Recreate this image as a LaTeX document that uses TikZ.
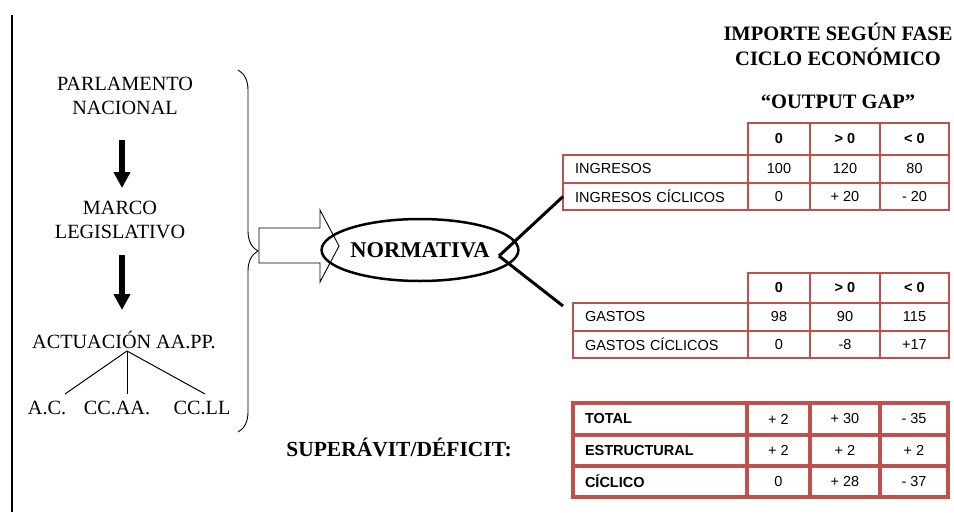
\documentclass[tikz,border=0pt]{standalone}
\usepackage{fontspec}
\setmainfont{Liberation Serif}
\newfontfamily\tabfont{Liberation Sans}
\usepackage{tikz}
\usetikzlibrary{positioning,arrows.meta,shapes.geometric,decorations.pathreplacing}
\definecolor{tabred}{RGB}{192,80,77}

\tikzset{
  txt/.style={font=\fontsize{20.2}{24}\selectfont, align=center, inner sep=0pt},
  hdr/.style={font=\bfseries\fontsize{20.5}{25}\selectfont, align=center, inner sep=0pt},
  cell/.style={draw=tabred, line width=1.5pt, inner sep=0pt, outer sep=0pt, anchor=north west,
               font=\tabfont\fontsize{14.5}{16}\selectfont},
  bcell/.style={cell, font=\tabfont\bfseries\fontsize{14.5}{16}\selectfont},
  lab/.style={text width=#1, inner xsep=12pt, align=left},
  fat/.style={line width=3.5pt},
  bigdown/.style={line width=5.5pt, -{Triangle[length=16pt,width=16pt]}}
}

\begin{document}
\begin{tikzpicture}[x=1pt,y=-1pt]
                \useasboundingbox (0,0) rectangle (954,512);
                \draw[line width=2pt] (12,15) -- (12,512);

                % left column
                \node[txt] (parl)  at (125,96)   {PARLAMENTO\\NACIONAL};
                \node[txt] (marco) at (120,220)  {MARCO\\LEGISLATIVO};
                \node[txt] (act)   at (124,340)  {ACTUACIÓN AA.PP.};
                \node[txt] (ac)    at (47,408)   {A.C.};
                \node[txt] (ccaa)  at (117,408)  {CC.AA.};
                \node[txt] (ccll)  at (202,408)  {CC.LL};

                \draw[bigdown] (122,140) -- (122,188);
                \draw[bigdown] (122,255) -- (122,310);

                \coordinate (apex) at (127,351);
                \coordinate (t1)   at (65,394);
                \coordinate (t2)   at (127,394);
                \coordinate (t3)   at (205,394);
                \draw[line width=1pt] (apex) -- (t1);
                \draw[line width=1pt] (apex) -- (t2);
                \draw[line width=1pt] (apex) -- (t3);

                \draw[line width=0.9pt, decorate, decoration={brace, amplitude=20pt}] (238,70) -- (238,432);
                \draw[line width=0.9pt] (259,228) -- (320,228) -- (320,210) -- (339,246) -- (320,282) -- (320,263) -- (259,263) -- cycle;

                \node[draw, ellipse, line width=2.5pt, minimum width=159pt, minimum height=62pt, inner sep=0pt,
                      font=\bfseries\fontsize{22.5}{24}\selectfont] (norm) at (420,250) {NORMATIVA};

                % titles
                \node[hdr] (imp) at (838,44)  {IMPORTE SEGÚN FASE\\CICLO ECONÓMICO};
                \node[hdr] (gap) at (838,102) {“OUTPUT GAP”};
                \node[hdr, font=\bfseries\fontsize{21.5}{25}\selectfont] (sup) at (399,447) {SUPERÁVIT/DÉFICIT:};

                % ingresos
                \node[bcell, minimum width=62pt, minimum height=32pt] (ih0) at (748,123) {0};
                \node[bcell, minimum width=70pt, minimum height=32pt] (ih1) at (810,123) {> 0};
                \node[bcell, minimum width=69pt, minimum height=32pt] (ih2) at (880,123) {< 0};
                \node[cell, lab=161pt, minimum height=28pt] (ing)  at (563,155) {INGRESOS};
                \node[cell, minimum width=62pt, minimum height=28pt] (ing0) at (748,155) {100};
                \node[cell, minimum width=70pt, minimum height=28pt] (ing1) at (810,155) {120};
                \node[cell, minimum width=69pt, minimum height=28pt] (ing2) at (880,155) {80};
                \node[cell, lab=161pt, minimum height=27pt] (ic)  at (563,183) {INGRESOS CÍCLICOS};
                \node[cell, minimum width=62pt, minimum height=27pt] (ic0) at (748,183) {0};
                \node[cell, minimum width=70pt, minimum height=27pt] (ic1) at (810,183) {+ 20};
                \node[cell, minimum width=69pt, minimum height=27pt] (ic2) at (880,183) {- 20};

                % gastos
                \node[bcell, minimum width=62pt, minimum height=30pt] (gh0) at (748,273) {0};
                \node[bcell, minimum width=70pt, minimum height=30pt] (gh1) at (810,273) {> 0};
                \node[bcell, minimum width=69pt, minimum height=30pt] (gh2) at (880,273) {< 0};
                \node[cell, lab=151pt, minimum height=28pt] (gas)  at (573,303) {GASTOS};
                \node[cell, minimum width=62pt, minimum height=28pt] (gas0) at (748,303) {98};
                \node[cell, minimum width=70pt, minimum height=28pt] (gas1) at (810,303) {90};
                \node[cell, minimum width=69pt, minimum height=28pt] (gas2) at (880,303) {115};
                \node[cell, lab=151pt, minimum height=27pt] (gc)  at (573,331) {GASTOS CÍCLICOS};
                \node[cell, minimum width=62pt, minimum height=27pt] (gc0) at (748,331) {0};
                \node[cell, minimum width=70pt, minimum height=27pt] (gc1) at (810,331) {-8};
                \node[cell, minimum width=69pt, minimum height=27pt] (gc2) at (880,331) {+17};

                % saldo
                \node[bcell, fat, lab=150pt, minimum height=32pt] (tot) at (573,403) {TOTAL};
                \node[cell, fat, minimum width=63pt, minimum height=32pt] (tot0) at (747,403) {+ 2};
                \node[cell, fat, minimum width=70pt, minimum height=32pt] (tot1) at (810,403) {+ 30};
                \node[cell, fat, minimum width=68pt, minimum height=32pt] (tot2) at (880,403) {- 35};
                \node[bcell, fat, lab=150pt, minimum height=31pt] (est) at (573,435) {ESTRUCTURAL};
                \node[cell, fat, minimum width=63pt, minimum height=31pt] (est0) at (747,435) {+ 2};
                \node[cell, fat, minimum width=70pt, minimum height=31pt] (est1) at (810,435) {+ 2};
                \node[cell, fat, minimum width=68pt, minimum height=31pt] (est2) at (880,435) {+ 2};
                \node[bcell, fat, lab=150pt, minimum height=31pt] (cic) at (573,466) {CÍCLICO};
                \node[cell, fat, minimum width=63pt, minimum height=31pt] (cic0) at (747,466) {0};
                \node[cell, fat, minimum width=70pt, minimum height=31pt] (cic1) at (810,466) {+ 28};
                \node[cell, fat, minimum width=68pt, minimum height=31pt] (cic2) at (880,466) {- 37};

                % links from normativa
                \coordinate (fork) at (499,256);
                \coordinate (low)  at (563,306);
                \draw[line width=3pt] (fork) -- (ic.west);
                \draw[line width=3pt] (fork) -- (low);
            \end{tikzpicture}
\end{document}
